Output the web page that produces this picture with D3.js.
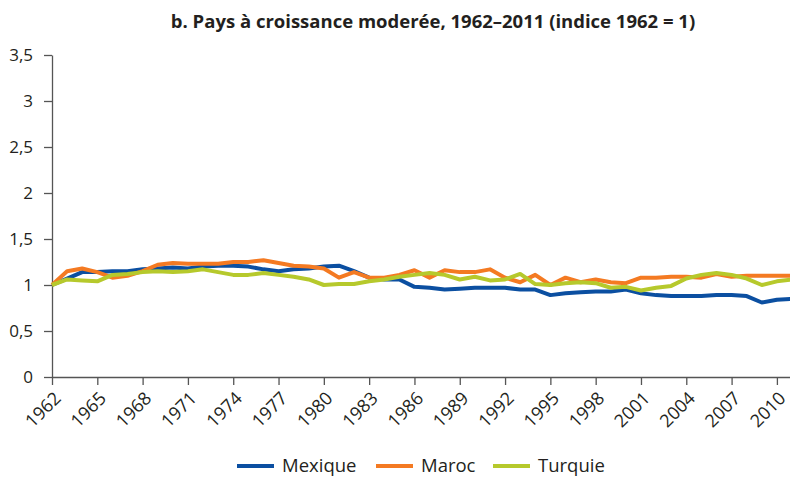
<!DOCTYPE html>
<html>
<head>
<meta charset="utf-8">
<script src="https://cdn.jsdelivr.net/npm/d3@7"></script>
<style>
body { margin: 0; background: #fff; }
svg { display: block; font-family: "Open Sans", sans-serif; }
</style>
</head>
<body>
<svg id="chart" width="790" height="477"></svg>
<script>
// annees 1962 - 2011
var years = d3.range(1962, 2012);
var tickYears = d3.range(1962, 2011, 3);
var yTicks = [0, 0.5, 1, 1.5, 2, 2.5, 3, 3.5];

var mexique = [1.00, 1.07, 1.14, 1.14, 1.15, 1.15, 1.17, 1.18, 1.19, 1.18, 1.20, 1.21, 1.21, 1.20, 1.17, 1.15,
	1.17, 1.18, 1.20, 1.21, 1.15, 1.08, 1.06, 1.06, 0.98, 0.97, 0.95, 0.96, 0.97, 0.97, 0.97, 0.95,
	0.95, 0.89, 0.91, 0.92, 0.93, 0.93, 0.95, 0.91, 0.89, 0.88, 0.88, 0.88, 0.89, 0.89, 0.88, 0.81, 0.84, 0.85];
var maroc = [1.00, 1.15, 1.18, 1.14, 1.08, 1.10, 1.15, 1.22, 1.24, 1.23, 1.23, 1.23, 1.25, 1.25, 1.27, 1.24,
	1.21, 1.20, 1.18, 1.08, 1.14, 1.08, 1.08, 1.11, 1.16, 1.08, 1.16, 1.14, 1.14, 1.17, 1.08, 1.03,
	1.11, 1.00, 1.08, 1.03, 1.06, 1.03, 1.02, 1.08, 1.08, 1.09, 1.09, 1.08, 1.12, 1.09, 1.10, 1.10, 1.10, 1.10];
var turquie = [1.00, 1.06, 1.05, 1.04, 1.11, 1.12, 1.14, 1.15, 1.14, 1.15, 1.17, 1.14, 1.11, 1.11, 1.13, 1.11,
	1.09, 1.06, 1.00, 1.01, 1.01, 1.04, 1.06, 1.09, 1.11, 1.13, 1.11, 1.06, 1.09, 1.05, 1.06, 1.12,
	1.01, 1.00, 1.02, 1.03, 1.02, 0.97, 0.98, 0.94, 0.97, 0.99, 1.07, 1.11, 1.13, 1.11, 1.07, 1.00, 1.04, 1.06];

var seriesNames = ["Mexique", "Maroc", "Turquie"];
var seriesValues = [mexique, maroc, turquie];
var seriesColors = ["#0b4fa1", "#f47a22", "#b6c92c"];

var svg = d3.select("#chart");
var plotLeft = 52, plotRight = 792, plotTop = 55, plotBottom = 377;

var x = d3.scaleLinear().domain([1962, 2011]).range([plotLeft, plotRight]);
var y = d3.scaleLinear().domain([0, 3.5]).range([plotBottom, plotTop]);

var fr = d3.formatLocale({decimal: ",", thousands: " ", grouping: [3], currency: ["", " €"]});
var fmt = fr.format("~g");

svg.append("text")
	.attr("x", 433)
	.attr("y", 28)
	.attr("text-anchor", "middle")
	.attr("font-size", 18.5)
	.attr("font-weight", "bold")
	.attr("fill", "#231f20")
	.text("b. Pays à croissance moderée, 1962–2011 (indice 1962 = 1)");

var yAxis = svg.append("g")
	.attr("transform", "translate(" + plotLeft + ",0)")
	.call(d3.axisLeft(y).tickValues(yTicks).tickFormat(fmt).tickSize(8).tickSizeOuter(0).tickPadding(11));

var xAxis = svg.append("g")
	.attr("transform", "translate(0," + plotBottom + ")")
	.call(d3.axisBottom(x).tickValues(tickYears).tickFormat(d3.format("d")).tickSize(8).tickSizeOuter(0));

svg.selectAll(".domain, .tick line").attr("stroke", "#555").attr("stroke-width", 1.3);
svg.selectAll(".tick text").attr("fill", "#231f20").attr("font-family", "Open Sans, sans-serif");
yAxis.selectAll("text").attr("font-size", 17);

xAxis.selectAll("text")
	.attr("font-size", 18)
	.attr("text-anchor", "end")
	.attr("x", 0)
	.attr("y", 0)
	.attr("dy", "0.35em")
	.attr("transform", "translate(5,18) rotate(-45)");

var line = d3.line()
	.x(function(d, i) { return x(years[i]); })
	.y(function(d) { return y(d); });

svg.append("g")
	.selectAll("path")
	.data(seriesValues)
	.enter().append("path")
	.attr("d", line)
	.attr("fill", "none")
	.attr("stroke", function(d, i) { return seriesColors[i]; })
	.attr("stroke-width", 4)
	.attr("stroke-linejoin", "round");

// legende
var legendX = [237, 376, 493];
var legend = svg.append("g")
	.selectAll("g")
	.data(seriesNames)
	.enter().append("g")
	.attr("transform", function(d, i) { return "translate(" + legendX[i] + ",466)"; });

legend.append("line")
	.attr("x1", 0).attr("x2", 37)
	.attr("stroke", function(d, i) { return seriesColors[i]; })
	.attr("stroke-width", 4);

legend.append("text")
	.attr("x", 45)
	.attr("dy", "0.35em")
	.attr("font-size", 18.5)
	.attr("fill", "#231f20")
	.text(function(d) { return d; });
</script>
</body>
</html>
